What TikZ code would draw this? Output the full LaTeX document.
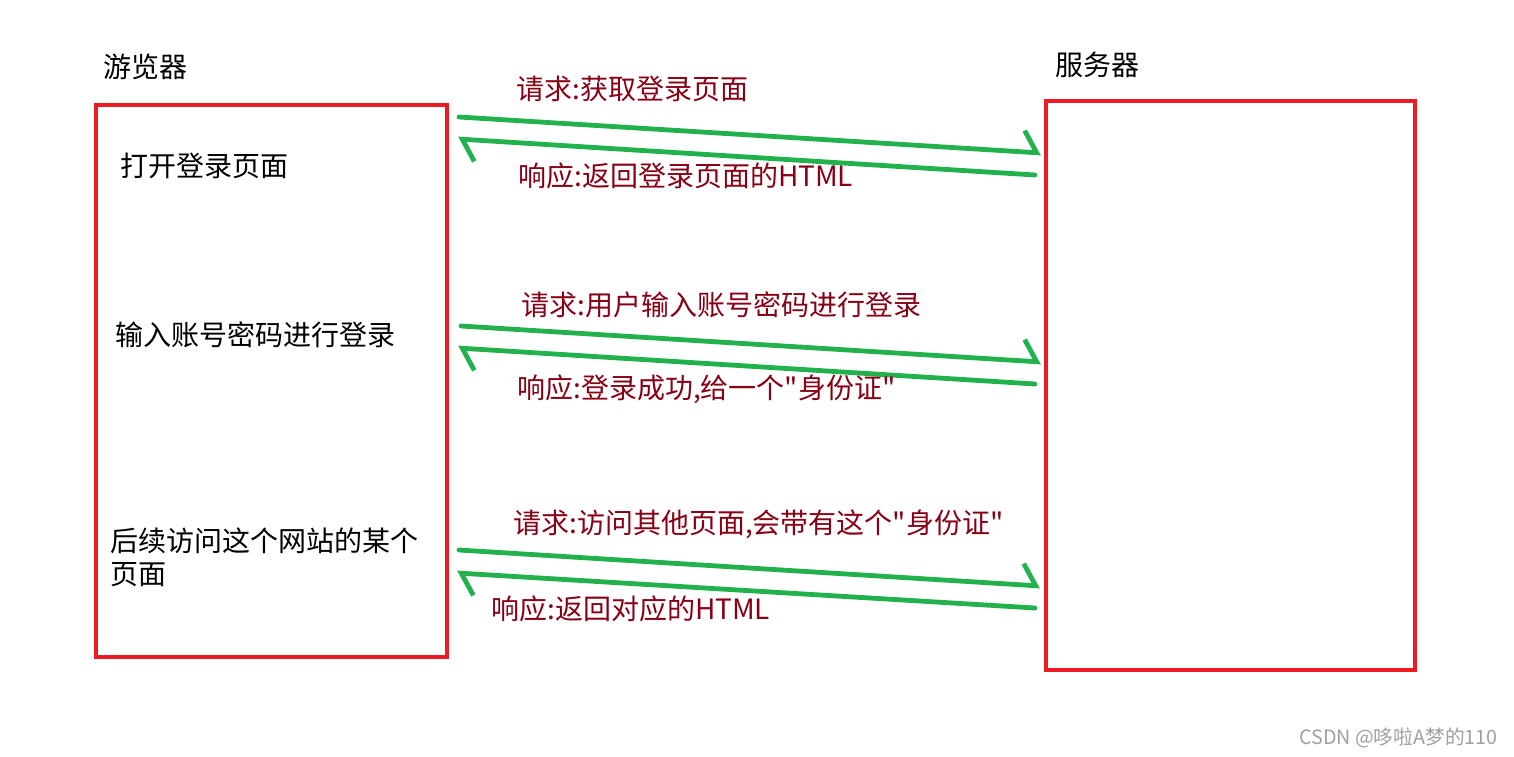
\documentclass[tikz,border=0pt]{standalone}
\usepackage{fontspec}
\usepackage{xcolor,tikz}
\usetikzlibrary{arrows.meta}
\newfontfamily\cjk{Noto Sans CJK SC}
\definecolor{FrameRed}{HTML}{ED1C24}
\definecolor{ArrowGreen}{HTML}{22B14C}
\definecolor{LabelRed}{HTML}{880015}
\definecolor{MarkGray}{HTML}{A0A0A0}
\tikzset{every node/.style={font=\cjk\fontsize{21}{25}\selectfont,inner sep=0pt},
 frame/.style={draw=FrameRed,line width=3pt},
 step text/.style={anchor=west,align=left},
 msg label/.style={anchor=west,text=LabelRed},
 msg/.style={draw=ArrowGreen,line width=3.6pt,line cap=round,
 -{Straight Barb[harpoon,length=10pt,width=32pt]}}}
\begin{document}
\begin{tikzpicture}[x=0.75pt,y=-0.75pt]
\fill[white] (0,0) rectangle (1514,757);
\useasboundingbox (0,0) rectangle (1514,757);
\draw[frame] (96,105) rectangle (447,657);
\draw[frame] (1046,101) rectangle (1415,670);
\node[anchor=west] (browser) at (103,67) {游览器};
\node[anchor=west] (server) at (1055,65) {服务器};
\node[step text] (open) at (120,166) {打开登录页面};
\node[step text] (login) at (115,335) {输入账号密码进行登录};
\node[step text] (visit) at (110,557) {后续访问这个网站的某个\\页面};
\coordinate (req1a) at (459,117); \coordinate (req1b) at (1041,153);
\coordinate (res1a) at (1035,175); \coordinate (res1b) at (458,139);
\coordinate (req2a) at (461,326); \coordinate (req2b) at (1041,362);
\coordinate (res2a) at (1035,384); \coordinate (res2b) at (458,348);
\coordinate (req3a) at (459,550); \coordinate (req3b) at (1040,586);
\coordinate (res3a) at (1035,608); \coordinate (res3b) at (457,573);
\draw[msg] (req1a)--(req1b);
\draw[msg] (res1a)--(res1b);
\draw[msg] (req2a)--(req2b);
\draw[msg] (res2a)--(res2b);
\draw[msg] (req3a)--(req3b);
\draw[msg] (res3a)--(res3b);
\node[msg label] (req1) at (516,89) {请求:获取登录页面};
\node[msg label] (res1) at (518,176) {响应:返回登录页面的HTML};
\node[msg label] (req2) at (521,305) {请求:用户输入账号密码进行登录};
\node[msg label] (res2) at (517,389) {响应:登录成功,给一个"身份证"};
\node[msg label] (req3) at (513,524) {请求:访问其他页面,会带有这个"身份证"};
\node[msg label] (res3) at (491,609) {响应:返回对应的HTML};
\node[anchor=east,text=MarkGray,font=\cjk\fontsize{14.8}{17}\selectfont] (mark) at (1498,738) {CSDN @哆啦A梦的110};
\end{tikzpicture}
\end{document}
